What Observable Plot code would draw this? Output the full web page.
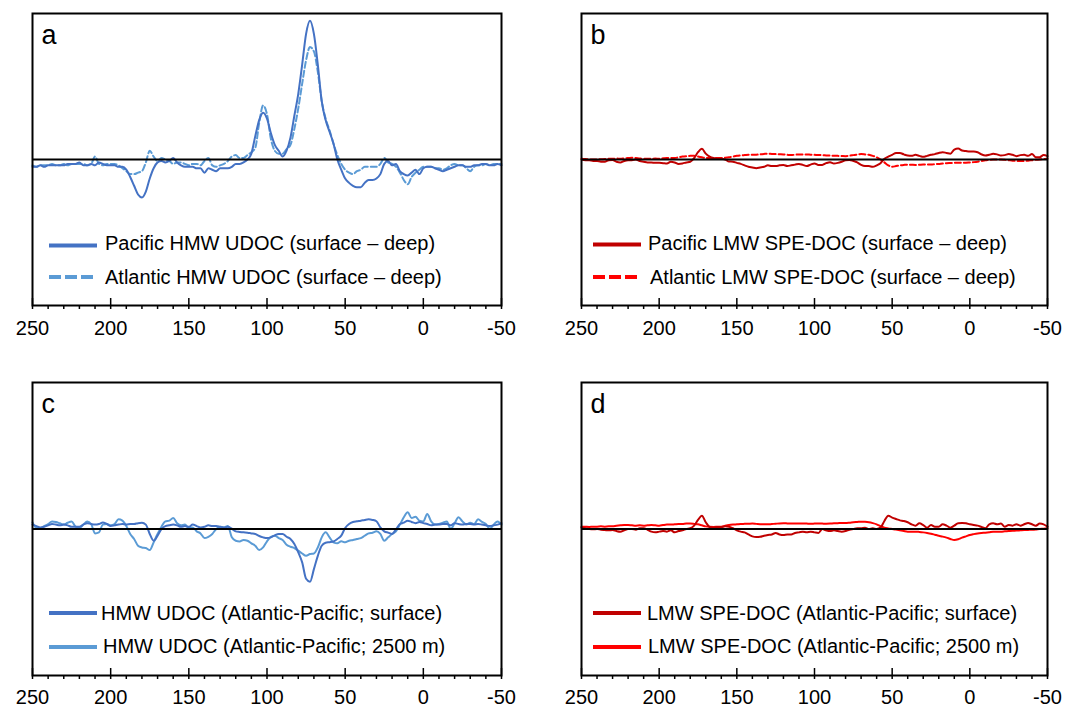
<!DOCTYPE html>
<html>
<head>
<meta charset="utf-8">
<script src="https://cdn.jsdelivr.net/npm/d3@7"></script>
<script src="https://cdn.jsdelivr.net/npm/@observablehq/plot@0.6"></script>
<style>
  html, body { margin: 0; padding: 0; background: white; }
  #root { position: relative; width: 1068px; height: 708px; background: white; overflow: hidden; }
  .panel { position: absolute; }
  #legend { position: absolute; left: 0; top: 0; pointer-events: none; }
</style>
</head>
<body>
<div id="root">
  <div class="panel" id="pa" style="left:0;top:0"></div>
  <div class="panel" id="pb" style="left:534px;top:0"></div>
  <div class="panel" id="pc" style="left:0;top:354px"></div>
  <div class="panel" id="pd" style="left:534px;top:354px"></div>
  <svg id="legend" width="1068" height="708"></svg>
</div>
<script>
// x positions (shared by all series)
const xValues = [
  250,247.5,245,242.5,240,237.5,235,232.5,230,227.5,
  225,222.5,220,217.5,215,212.5,210,207.5,205,202.5,
  200,197.5,195,192.5,190,187.5,185,182.5,180,177.5,
  175,172.5,170,167.5,165,162.5,160,157.5,155,152.5,
  150,147.5,145,142.5,140,137.5,135,132.5,130,127.5,
  125,122.5,120,117.5,115,112.5,110,107.5,105,102.5,
  100,97.5,95,92.5,90,87.5,85,82.5,80,77.5,
  75,72.5,70,67.5,65,62.5,60,57.5,55,52.5,
  50,47.5,45,42.5,40,37.5,35,32.5,30,27.5,
  25,22.5,20,17.5,15,12.5,10,7.5,5,2.5,
  0,-2.5,-5,-7.5,-10,-12.5,-15,-17.5,-20,-22.5,
  -25,-27.5,-30,-32.5,-35,-37.5,-40,-42.5,-45,-47.5,
  -50
];

// Panel a
const pacificHMW = [
  -5,-5,-4,-5,-4,-4,-4,-4,-4,-3,
  -3,-3,-2,-4,-4,-3,-4,-2,-3,-4,
  -4,-4,-5,-5,-7,-12,-18,-24,-26,-22,
  -13,-6,-2,-1,-2,-1,1,-2,-4,-5,
  -5,-5,-6,-6,-9,-6,-7,-8,-6,-6,
  -6,-5,-3,-3,-2,0,4,16,27,32,
  28,18,10,6,2,6,15,30,45,65,
  86,95,86,65,40,27,19,11,0,-7,
  -13,-16,-18,-19,-19,-16,-14,-14,-13,-10,
  -3,-1,-4,-3,-8,-10,-11,-9,-7,-10,
  -6,-5,-5,-6,-7,-8,-7,-6,-5,-4,
  -4,-5,-5,-4,-4,-3,-3,-4,-4,-3,
  -4
];
const atlanticHMW = [
  -4,-5,-4,-4,-4,-3,-4,-4,-3,-4,
  -3,-3,-3,-3,-4,-3,2,-3,-4,-3,
  -3,-3,-4,-6,-8,-10,-10,-9,-8,-2,
  6,2,-1,1,0,-1,-3,-2,-2,-3,
  -4,-3,-3,-4,-1,1,-4,-5,-4,-3,
  -1,2,3,1,1,3,5,8,25,37,
  31,14,6,4,4,7,10,21,35,52,
  68,77,74,60,40,28,20,11,3,-3,
  -7,-9,-10,-8,-7,-5,-5,-5,-5,-3,
  1,-2,-3,-5,-9,-14,-17,-12,-9,-7,
  -5,-5,-5,-6,-6,-7,-6,-4,-3,-4,
  -4,-6,-8,-5,-4,-4,-3,-4,-3,-3,
  -3
];

// Panel b
const pacificLMW = [
  0,-0.5,-0.5,-1,-1,-1.5,-1.5,-0.5,-0.3,-1.5,
  -2,-1,-0.5,-0.5,0,-1,-1.5,-2,-2,-2.3,
  -2.3,-2.5,-2.7,-1.5,-2,-3,-2.7,-2,-1.5,1,
  5,7.3,4,2,1,0.5,0.5,0,-1.4,-1.5,
  -2.3,-3,-4,-5,-5.5,-6,-5.5,-5,-4,-4.5,
  -4.5,-4,-3.7,-4.5,-4,-3.5,-3,-3.7,-4.5,-3.5,
  -2.7,-3.7,-3.7,-2.5,-1.8,-2.7,-2.3,-1.5,-0.5,-0.3,
  -1,-2,-3.7,-4.5,-4.5,-5,-4,-2.5,0.5,2,
  3.2,4.5,4.5,3.5,2.7,2.5,3.2,2.5,1.8,2.5,
  3.2,3.7,4.5,5,4.5,4,6.8,7.5,6.2,5.8,
  5.5,5.5,5,3.5,2.7,3.2,3.9,3.5,2.7,3,
  3.7,3.2,2.3,3,3.2,2.5,3.7,1.5,1.6,3,
  2.3
];
const atlanticLMW = [
  0.5,0.3,0,0,0,0.2,0.3,0.5,0.5,0.7,
  0.5,0.8,1,1.2,1,0.7,0.5,0.5,0.5,0.7,
  0.5,0.8,1,1,1,1.5,2,2.3,2.5,2.5,
  2,1.5,1,1,1,1,1,1.2,1.5,2,
  2.5,2.8,3,3.2,3.2,3.3,3.5,3.8,4,3.8,
  3.7,3.6,3.5,3.2,3,3.3,3.5,3.5,3.5,3.3,
  3.2,3,3,2.8,2.7,2.6,2.5,2.4,2.3,2.6,
  3,3.4,3.7,3.5,3.2,2.5,1.5,0,-2,-4,
  -5,-4.5,-4,-3.7,-3.5,-3.6,-3.7,-3.6,-3.5,-3.5,
  -3.5,-3.2,-3,-2.7,-2.5,-2.4,-2.3,-2.3,-2.3,-2.2,
  -2,-1.8,-1.5,-1,-0.5,-0.2,0,0,0,-0.2,
  -0.5,-0.8,-1,-1,-1,-0.8,-0.5,-0.2,0,0.3,
  0.5
];

// Panel c
const hmwSurface = [
  3,2,1,1.5,2.5,3.4,3,2.5,3,2.5,
  1.5,1.5,1.5,3,4,3.4,3,3.4,4.5,3.4,
  2,2.5,3,3.4,3,3.4,3.4,4,4.3,3,
  -3.4,-8,-4.5,0,2,2.5,3,2.5,1.5,2,
  1.5,3,2,1,1.5,2.5,2,2,1.5,1,
  1.5,0.2,-1.6,-2,-2.3,-2.5,-3,-3.4,-4.8,-5.7,
  -6.2,-5.7,-4.3,-3.4,-3.4,-5.3,-6.8,-10.3,-16,-22.8,
  -34,-36,-27.4,-18.3,-11.4,-9.4,-9,-8.5,-6.8,-4.5,
  0.7,3.4,4.8,5.3,5.7,6.2,6.6,6.2,5.3,1.1,
  -1.6,-2.5,-3.4,-0.2,3.4,4.3,5.7,4.8,4,4.8,
  4,3.4,2.5,3,3,3.4,3.4,2.5,4,3.4,
  3,3.4,3.4,3,3.4,3,2.5,2,2.5,3,
  4
];
const hmw2500 = [
  4.5,0.7,0.7,2,3.4,5.2,4.8,3.9,3,4.3,
  5.2,1.6,0.7,3,5.2,3.4,-3,-2.3,3,3.4,
  2.5,3.4,6.6,5.7,2,-3.4,-6.8,-11.4,-12.6,-13,
  -14.4,-9.1,-3.4,1.6,5.2,5.7,7.5,3.9,2.5,3,
  0.7,1.1,-1.6,-3,-6.2,-5.3,-3.4,0,1.6,1.1,
  2,-5.7,-8,-8.5,-7.5,-8,-9.8,-11.4,-14.4,-12.6,
  -8.4,-5.3,-4.6,-6.2,-7.5,-10.7,-12.1,-13,-14.8,-16.7,
  -18.3,-17.1,-16.7,-12.6,-5.7,-2.3,-5.7,-9.1,-9.8,-8.4,
  -9.1,-8,-7.5,-6.8,-6.2,-4.6,-3,-2.5,-1.6,-3.4,
  -8,-5.7,-3.4,-1.6,3,8,11.4,7.5,8.4,5.7,
  5.2,10.3,5.2,3,3.4,4.3,5.2,0.2,3.9,8,
  5.2,3,4.3,3.4,6.6,4.8,3.4,0.2,3,5.2,
  3
];

// Panel d
const lmwSurface = [
  0.9,0.5,0,-0.2,0,-0.5,-0.7,-0.9,-0.7,-1.4,
  -1.8,-0.9,0,0,-0.5,0.5,0.5,-0.5,-1.8,-2.3,
  -1.8,-1.4,-1.8,-0.9,-2.3,-1.4,-0.9,0,0.5,2.3,
  6.2,9.1,4.6,1.4,0.9,1.4,1.4,1.8,1.6,0.5,
  -0.9,-1.8,-2.3,-3.7,-5,-5.5,-5.3,-4.6,-4.1,-3.7,
  -2.7,-3.7,-4.1,-3.7,-3.7,-2.7,-2.3,-1.8,-2.3,-1.8,
  -2.3,-2.7,0,-0.9,-1.4,-0.9,-1.4,-1.8,-1.4,-0.5,
  0,0.5,0.5,0.9,0,0.5,0,0.9,5.5,9.1,
  7.8,6.8,5.9,5.5,4.6,3.2,2.3,3.9,2.7,0.9,
  2.7,1.6,1.6,3.2,2.3,0.9,2.3,3.9,4.1,3.9,
  3.2,2.7,2.3,1.4,0.5,3.2,3.9,3.2,3.7,1.6,
  2.7,2.3,3.2,2.3,3.2,4.1,3.2,2.3,3.7,3.2,
  1.6
];
const lmw2500 = [
  1.6,1.5,1.4,1.6,1.6,1.8,1.6,1.8,1.8,2.2,
  2.5,2.7,2.7,2.5,2.3,2.5,2.3,2.5,2.7,2.5,
  2.3,2.7,3,3,3.2,3.4,3.4,3.7,3.7,3.5,
  3.2,2.5,1.8,1.5,1.4,1.5,1.6,2.2,2.7,3,
  3.2,3.4,3.5,3.6,3.7,3.5,3.3,3.2,3.2,3.4,
  3.6,3.8,3.9,3.8,3.7,3.7,3.7,3.8,3.7,3.6,
  3.7,3.8,3.7,3.6,3.7,3.9,4,4.1,4.1,4.3,
  4.6,4.8,5,4.9,4.6,4,3.2,2,0.9,0.4,
  0,-0.4,-0.9,-1.4,-1.8,-1.8,-1.8,-2,-2.3,-2.7,
  -3.2,-3.9,-4.6,-5.2,-5.9,-6.8,-7.5,-7,-5.9,-5,
  -4.1,-3.5,-3,-2.7,-2.5,-2.2,-1.8,-1.8,-1.8,-1.6,
  -1.4,-1.2,-1.1,-0.9,-0.7,-0.6,-0.5,-0.3,0,0.2,
  0.5
];

// Axis ticks
const majorTicks = [250, 200, 150, 100, 50, 0, -50];
const minorTicks = [240,230,220,210,190,180,170,160,140,130,120,110,90,80,70,60,40,30,20,10,-10,-20,-30,-40];

// Labels
const panelLetters = ["a", "b", "c", "d"];
const legendA = ["Pacific HMW UDOC (surface \u2013 deep)", "Atlantic HMW UDOC (surface \u2013 deep)"];
const legendB = ["Pacific LMW SPE-DOC (surface \u2013 deep)", "Atlantic LMW SPE-DOC (surface \u2013 deep)"];
const legendC = ["HMW UDOC (Atlantic-Pacific; surface)", "HMW UDOC (Atlantic-Pacific; 2500 m)"];
const legendD = ["LMW SPE-DOC (Atlantic-Pacific; surface)", "LMW SPE-DOC (Atlantic-Pacific; 2500 m)"];

const DARK_BLUE = "#4472c4", LIGHT_BLUE = "#5b9bd5", DARK_RED = "#c00000", RED = "#ff0000";
const FONT = "'Liberation Sans', Arial, Helvetica, sans-serif";

function rows(values) { return xValues.map((x, i) => ({x, y: values[i]})); }

function panel(el, {series, letter, mL, mR, mT, mB, labelPad}) {
  const marks = [];
  for (const s of series) {
    marks.push(Plot.line(rows(s.values), {
      x: "x", y: "y", stroke: s.color, strokeWidth: 2,
      strokeDasharray: s.dash ? "6,3" : undefined, curve: "monotone-x"
    }));
  }
  marks.push(Plot.ruleY([0], {stroke: "black", strokeWidth: 2}));
  marks.push(Plot.frame({stroke: "black", strokeWidth: 2}));
  marks.push(Plot.axisX(minorTicks, {tickSize: 4, tickFormat: () => "", strokeWidth: 1.5, label: null}));
  marks.push(Plot.axisX(majorTicks, {tickSize: 11, dy: -7, tickFormat: () => "", strokeWidth: 1.5, label: null}));
  marks.push(Plot.axisX(majorTicks, {tickSize: 0, tickPadding: labelPad, tickFormat: d => String(d), fontSize: 20, fill: "black", label: null}));
  marks.push(Plot.text([letter], {text: d => d, frameAnchor: "top-left", dx: 9, dy: 11, fontSize: 27, fill: "black"}));
  const chart = Plot.plot({
    width: 534, height: 354,
    marginLeft: mL, marginRight: mR, marginTop: mT, marginBottom: mB,
    x: {domain: [250, -50], label: null},
    y: {domain: [-100, 100], axis: null},
    style: {fontFamily: FONT, fontSize: "20px", color: "black", background: "white", overflow: "visible"},
    marks
  });
  document.getElementById(el).appendChild(chart);
}

panel("pa", {letter: panelLetters[0], mL: 32, mR: 33, mT: 13, mB: 49, labelPad: 15,
  series: [{values: atlanticHMW, color: LIGHT_BLUE, dash: true}, {values: pacificHMW, color: DARK_BLUE}]});
panel("pb", {letter: panelLetters[1], mL: 47, mR: 21, mT: 13, mB: 49, labelPad: 15,
  series: [{values: atlanticLMW, color: RED, dash: true}, {values: pacificLMW, color: DARK_RED}]});
panel("pc", {letter: panelLetters[2], mL: 32, mR: 33, mT: 28, mB: 33, labelPad: 14,
  series: [{values: hmw2500, color: LIGHT_BLUE}, {values: hmwSurface, color: DARK_BLUE}]});
panel("pd", {letter: panelLetters[3], mL: 47, mR: 21, mT: 28, mB: 33, labelPad: 14,
  series: [{values: lmw2500, color: RED}, {values: lmwSurface, color: DARK_RED}]});

// Legends (drawn inside each panel, lower left)
const legendItems = [
  {x1: 49, x2: 97, y: 245.5, tx: 105, ty: 250, color: DARK_BLUE, dash: false, label: legendA[0]},
  {x1: 49, x2: 97, y: 277, tx: 105, ty: 284, color: LIGHT_BLUE, dash: true, label: legendA[1]},
  {x1: 593, x2: 641, y: 244.5, tx: 648, ty: 250, color: DARK_RED, dash: false, label: legendB[0]},
  {x1: 593, x2: 641, y: 277, tx: 650, ty: 284, color: RED, dash: true, label: legendB[1]},
  {x1: 49, x2: 97, y: 613, tx: 101, ty: 620, color: DARK_BLUE, dash: false, label: legendC[0]},
  {x1: 49, x2: 97, y: 647, tx: 103, ty: 653, color: LIGHT_BLUE, dash: false, label: legendC[1]},
  {x1: 593, x2: 641, y: 613, tx: 647, ty: 620, color: DARK_RED, dash: false, label: legendD[0]},
  {x1: 593, x2: 641, y: 647, tx: 648, ty: 653, color: RED, dash: false, label: legendD[1]}
];
const lg = d3.select("#legend");
for (const it of legendItems) {
  lg.append("line").attr("x1", it.x1).attr("x2", it.x2).attr("y1", it.y).attr("y2", it.y)
    .attr("stroke", it.color).attr("stroke-width", 4)
    .attr("stroke-dasharray", it.dash ? "12,4" : null);
  lg.append("text").attr("x", it.tx).attr("y", it.ty)
    .attr("font-family", FONT).attr("font-size", 20).attr("fill", "black")
    .text(it.label);
}
</script>
</body>
</html>
